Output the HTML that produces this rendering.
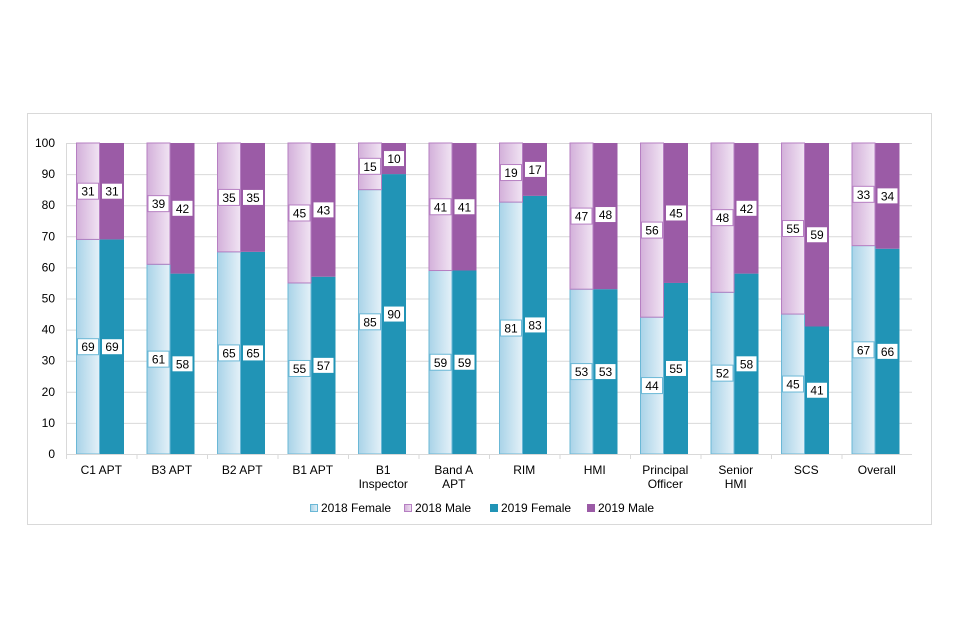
<!DOCTYPE html>
<html><head><meta charset="utf-8"><style>
html,body{margin:0;padding:0;background:#fff;width:960px;height:640px;overflow:hidden}
svg text{font-family:"Liberation Sans",sans-serif;}
</style></head><body>
<svg width="960" height="640" xmlns="http://www.w3.org/2000/svg">
<defs>
<linearGradient id="gF" x1="0" x2="1" y1="0" y2="0"><stop offset="0" stop-color="#a9d3e8"/><stop offset="1" stop-color="#e4f1f8"/></linearGradient>
<linearGradient id="gM" x1="0" x2="1" y1="0" y2="0"><stop offset="0" stop-color="#d3b0da"/><stop offset="1" stop-color="#f1e4f3"/></linearGradient>
</defs>
<rect x="27.5" y="113.5" width="904" height="411" fill="#fff" stroke="#d9d9d9"/>
<g id="grid"></g><g id="bars"></g><g id="labels"></g><g id="axes"></g>
<g id="legend"></g>
</svg>
<script>
const categories=[["C1 APT"],["B3 APT"],["B2 APT"],["B1 APT"],["B1","Inspector"],["Band A","APT"],["RIM"],["HMI"],["Principal","Officer"],["Senior","HMI"],["SCS"],["Overall"]];
const female2018=[69,61,65,55,85,59,81,53,44,52,45,67];
const male2018=[31,39,35,45,15,41,19,47,56,48,55,33];
const female2019=[69,58,65,57,90,59,83,53,55,58,41,66];
const male2019=[31,42,35,43,10,41,17,48,45,42,59,34];
const yTicks=[0,10,20,30,40,50,60,70,80,90,100];
const NS="http://www.w3.org/2000/svg";
const x0=66,x1=912,yb=454,yt=143;
const bw=(x1-x0)/categories.length;
const y=v=>yb-(Math.min(v,100)/100)*(yb-yt);
function mk(tag,attrs,parent,text){const e=document.createElementNS(NS,tag);for(const k in attrs)e.setAttribute(k,attrs[k]);if(text!==undefined)e.textContent=text;document.getElementById(parent).appendChild(e);return e;}
yTicks.forEach(t=>{
 const g=mk('line',{x1:x0,x2:x1,y1:y(t)+0.5,y2:y(t)+0.5,stroke:'#d9d9d9'},'grid');
 
 
 const l=mk('text',{x:55,y:y(t)+4,'text-anchor':'end','font-size':12,fill:'#000'},'axes',t);
 
 
});
const ax=mk('line',{x1:x0+0.5,x2:x0+0.5,y1:yt,y2:yb,stroke:'#d9d9d9'},'axes');


const xa=mk('line',{x1:x0,x2:x1,y1:yb+0.5,y2:yb+0.5,stroke:'#d9d9d9'},'axes');


function label(cx,cy,v,stroke){
 const w=v>=100?26:21;
 const r=mk('rect',{x:cx-w/2,y:cy-8,width:w,height:16,fill:'#fff',stroke:stroke},'labels');
 
 
 const t=mk('text',{x:cx,y:cy+4.5,'text-anchor':'middle','font-size':12,fill:'#000'},'labels',v);
 
 
}
categories.forEach((c,i)=>{
 const cs=x0+i*bw;
 const tk=mk('line',{x1:cs+0.5,x2:cs+0.5,y1:yb,y2:yb+5,stroke:'#d9d9d9'},'axes');
 
 
 const bx1=cs+10,bx2=cs+34,w=24;
 const f18=female2018[i],m18=male2018[i],f19=female2019[i],m19=male2019[i];
 let r=mk('rect',{x:bx1+0.5,y:y(f18),width:w-1,height:y(0)-y(f18),fill:'url(#gF)',stroke:'#6bb8d6'},'bars');
 
 
 r=mk('rect',{x:bx1+0.5,y:y(f18+m18),width:w-1,height:y(f18)-y(f18+m18),fill:'url(#gM)',stroke:'#b67fc2'},'bars');
 
 
 r=mk('rect',{x:bx2,y:y(f19),width:w,height:y(0)-y(f19),fill:'#2194b6'},'bars');
 
 
 r=mk('rect',{x:bx2,y:y(f19+m19),width:w,height:y(f19)-y(f19+m19),fill:'#9b5ba6'},'bars');
 
 
 label(bx1+12,y(f18/2),f18,'#6bb8d6');
 label(bx1+12,y(f18+m18/2),m18,'#b67fc2');
 label(bx2+12,y(f19/2),f19,'#2194b6');
 label(bx2+12,y(f19+m19/2),m19,'#9b5ba6');
 c.forEach((line,j)=>{
  const t=mk('text',{x:cs+bw/2,y:474+j*14,'text-anchor':'middle','font-size':12,fill:'#000'},'axes',line);
  
  
 });
});
const legendItems=[["2018 Female","url(#gF)","#6bb8d6",310],["2018 Male","url(#gM)","#b67fc2",404],["2019 Female","#2194b6","#2194b6",490],["2019 Male","#9b5ba6","#9b5ba6",587]];
legendItems.forEach(([n,f,s,lx])=>{
 const r=mk('rect',{x:lx+0.5,y:504.5,width:7,height:7,fill:f,stroke:s},'legend');
 
 
 const t=mk('text',{x:lx+11,y:512,'font-size':12,fill:'#000'},'legend',n);
 
 
});
</script>
</body></html>
